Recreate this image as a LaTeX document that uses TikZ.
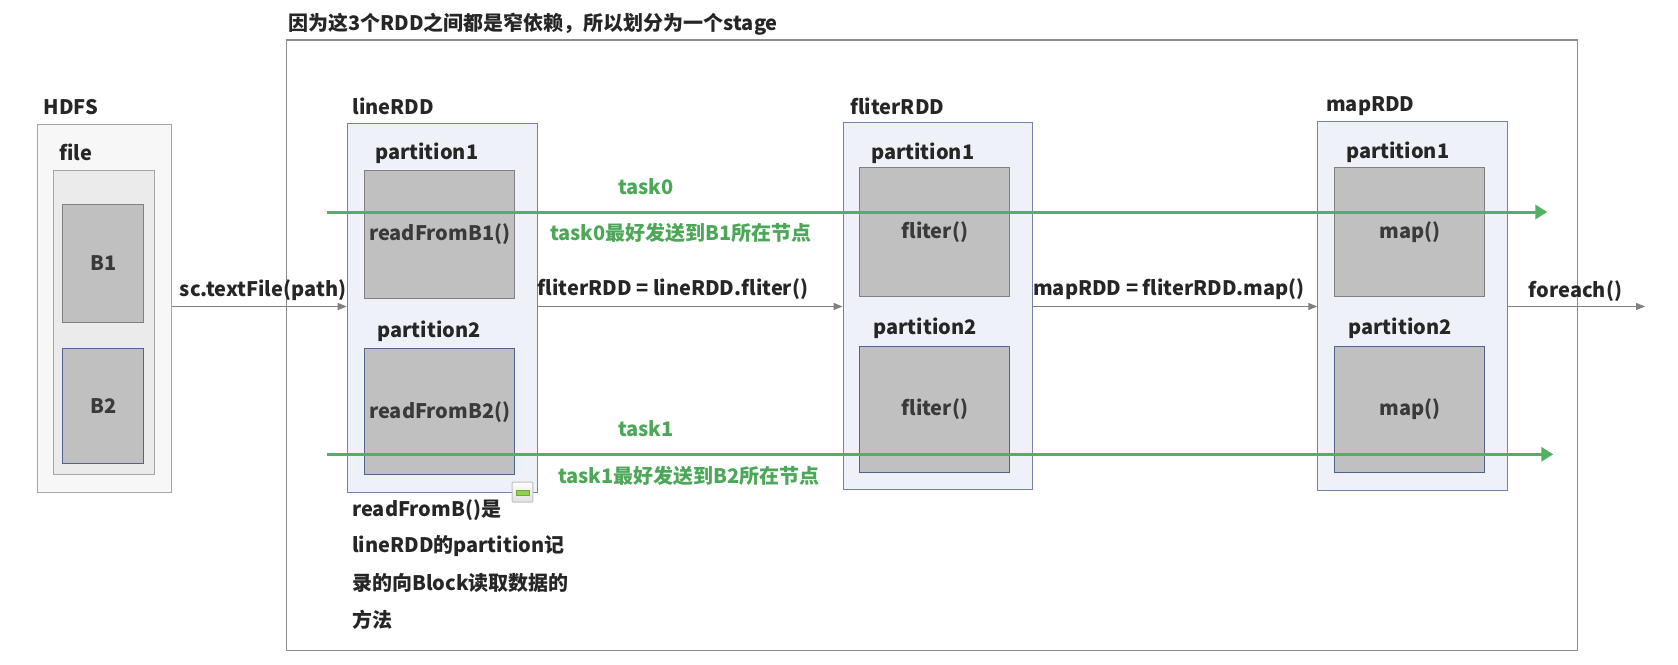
\documentclass[tikz,border=0pt]{standalone}
\usepackage{fontspec}
\setmainfont{Noto Sans CJK SC}
\usetikzlibrary{arrows.meta}
\definecolor{txt}{HTML}{262626}
\definecolor{intxt}{HTML}{3A3A3A}
\definecolor{grn}{RGB}{80,176,100}
\definecolor{grntxt}{RGB}{76,168,88}
\definecolor{arrowgray}{HTML}{808080}
\definecolor{stageline}{HTML}{8C8C8C}
\definecolor{rddfill}{HTML}{EEF1F8}
\definecolor{rddline}{HTML}{7083A8}
\definecolor{partfill}{HTML}{C0C0C0}
\definecolor{partgray}{HTML}{808080}
\definecolor{partblue}{HTML}{52648C}
\definecolor{hdfsfill}{HTML}{F7F7F7}
\definecolor{filefill}{HTML}{EBEBEB}
\definecolor{boxgray}{HTML}{A6A6A6}
\definecolor{iconline}{HTML}{BFBFBF}
\definecolor{iconbar}{HTML}{8FD14F}
\tikzset{
  lbl/.style={anchor=west, text=txt, inner sep=0pt},
  gtxt/.style={text=grntxt, inner sep=0pt},
  box/.style={anchor=north west, inner sep=0pt, line width=1pt},
  stagebox/.style={box, draw=stageline, line width=1.2pt},
  hdfsbox/.style={box, draw=boxgray, fill=hdfsfill},
  filebox/.style={box, draw=boxgray, fill=filefill},
  rddbox/.style={box, draw=rddline, fill=rddfill},
  partbox/.style={box, draw=partgray, fill=partfill, text=intxt},
  partboxb/.style={box, draw=partblue, fill=partfill, text=intxt},
  flow/.style={draw=arrowgray, line width=1.3pt, -{Triangle[length=9pt,width=7pt]}},
  taskline/.style={draw=grn, line width=3pt, -{Triangle[length=12pt,width=14pt]}},
  notebox/.style={box, draw=iconline, top color=white, bottom color=iconline!50, rounded corners=1pt},
  notebar/.style={fill=iconbar, draw=iconbar!80!black, line width=0.4pt, inner sep=0pt, minimum width=13pt, minimum height=5pt}
}
\begin{document}
\begin{tikzpicture}[x=1pt,y=-1pt,font=\fontsize{20}{24}\selectfont\bfseries]
\fill[white] (0,0) rectangle (1678,664);
\useasboundingbox (0,0) rectangle (1678,664);

% stage
\node[stagebox, minimum width=1290.8pt, minimum height=610.7pt] (stage) at (285.7,39.3) {};
\node[lbl] (title) at (288,24) {因为这3个RDD之间都是窄依赖，所以划分为一个stage};

% HDFS
\node[lbl] (hdfslbl) at (43.6,106.7) {HDFS};
\node[hdfsbox, minimum width=133.4pt, minimum height=368.3pt] (hdfs) at (37.3,124) {};
\node[lbl] (filelbl) at (58.9,152.7) {file};
\node[filebox, minimum width=101pt, minimum height=304.6pt] (file) at (52.7,169.7) {};
\node[partbox, minimum width=81pt, minimum height=117.7pt] (b1) at (62.3,204) {B1};
\node[partboxb, minimum width=81pt, minimum height=115.6pt] (b2) at (62.3,347.7) {B2};

% lineRDD
\node[lbl] (linelbl) at (352.3,106.7) {lineRDD};
\node[rddbox, minimum width=190.6pt, minimum height=369pt] (lineRDD) at (346.7,123.3) {};
\node[lbl] (lp1lbl) at (375,153.3) {partition1};
\node[partbox, minimum width=149.7pt, minimum height=128pt] (l1) at (364.3,169.7) {readFromB1()};
\node[lbl] (lp2lbl) at (377.3,331.7) {partition2};
\node[partboxb, minimum width=150pt, minimum height=126pt] (l2) at (364.3,348.3) {readFromB2()};

% fliterRDD
\node[lbl] (fltlbl) at (850,106) {fliterRDD};
\node[rddbox, minimum width=189.8pt, minimum height=367.3pt] (fliterRDD) at (842.5,121.7) {};
\node[lbl] (fp1lbl) at (871,153.3) {partition1};
\node[partbox, minimum width=150pt, minimum height=128.7pt] (f1) at (859.3,167.3) {fliter()};
\node[lbl] (fp2lbl) at (873.3,328.3) {partition2};
\node[partboxb, minimum width=150pt, minimum height=126.3pt] (f2) at (859.3,345.7) {fliter()};

% mapRDD
\node[lbl] (maplbl) at (1326,106) {mapRDD};
\node[rddbox, minimum width=190pt, minimum height=368.4pt] (mapRDD) at (1317.3,121.3) {};
\node[lbl] (mp1lbl) at (1346,152.7) {partition1};
\node[partbox, minimum width=150pt, minimum height=128.7pt] (m1) at (1334.3,167.3) {map()};
\node[lbl] (mp2lbl) at (1348.3,328.3) {partition2};
\node[partboxb, minimum width=150pt, minimum height=126.6pt] (m2) at (1334.3,345.7) {map()};

% flow arrows
\coordinate (ay) at (0,306.5);
\coordinate (fend) at (1645,306.5);
\draw[flow] (hdfs.east |- ay) -- (lineRDD.west |- ay);
\draw[flow] (lineRDD.east |- ay) -- (fliterRDD.west |- ay);
\draw[flow] (fliterRDD.east |- ay) -- (mapRDD.west |- ay);
\draw[flow] (mapRDD.east |- ay) -- (fend);
\node[lbl] (l_text) at (179.6,290) {sc.textFile(path)};
\node[lbl] (l_flt) at (537.5,289.5) {fliterRDD = lineRDD.fliter()};
\node[lbl] (l_map) at (1033,289.5) {mapRDD = fliterRDD.map()};
\node[lbl] (l_fe) at (1528.7,291) {foreach()};

% tasks
\coordinate (t0s) at (326.7,212);
\coordinate (t0e) at (1547.3,212);
\coordinate (t1s) at (326.7,454.3);
\coordinate (t1e) at (1553.3,454.3);
\draw[taskline] (t0s) -- (t0e);
\draw[taskline] (t1s) -- (t1e);
\node[gtxt] (task0) at (646,187) {task0};
\node[gtxt] (task0n) at (681,233.3) {task0最好发送到B1所在节点};
\node[gtxt] (task1) at (646,429) {task1};
\node[gtxt] (task1n) at (689,476) {task1最好发送到B2所在节点};

% note
\node[notebox, minimum width=20.6pt, minimum height=20pt] (note) at (511.7,481.7) {};
\node[notebar] (bar) at (note.center) {};
\node[lbl] (c1) at (352,510) {readFromB()是};
\node[lbl] (c2) at (352,546.5) {lineRDD的partition记};
\node[lbl] (c3) at (352,583) {录的向Block读取数据的};
\node[lbl] (c4) at (352,620) {方法};
\end{tikzpicture}
\end{document}
